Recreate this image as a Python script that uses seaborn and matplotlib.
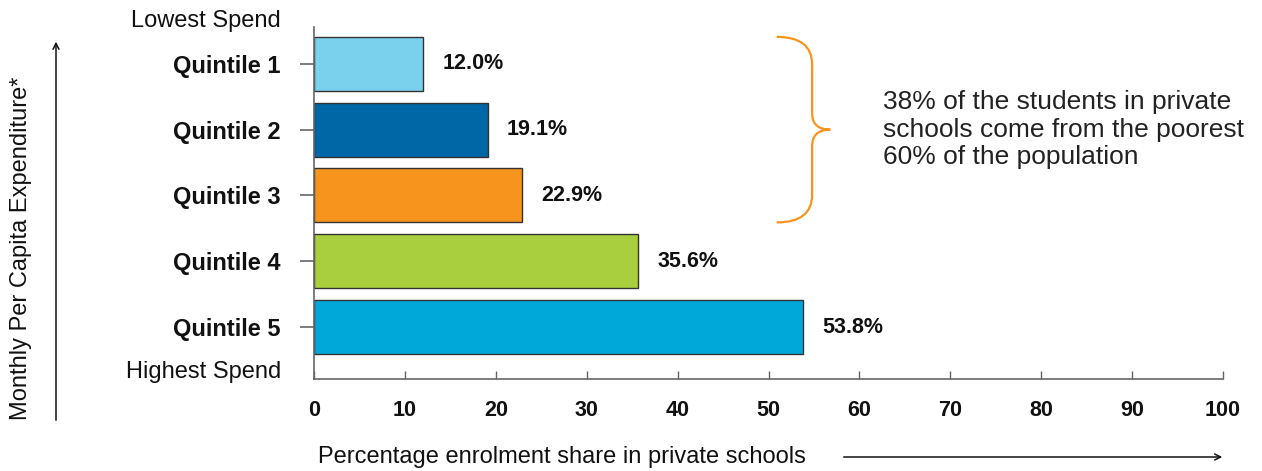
import matplotlib
matplotlib.use("Agg")
import matplotlib.pyplot as plt
from matplotlib.path import Path
from matplotlib.patches import PathPatch
import matplotlib.transforms as mtrans
import seaborn as sns
import pandas as pd

categories = ["Quintile 1", "Quintile 2", "Quintile 3", "Quintile 4", "Quintile 5"]
values = [12.0, 19.1, 22.9, 35.6, 53.8]
value_labels = ["12.0%", "19.1%", "22.9%", "35.6%", "53.8%"]
colors = ["#79D1EE", "#0067A6", "#F7941E", "#A9CE3E", "#00A8D9"]
x_ticks = [0, 10, 20, 30, 40, 50, 60, 70, 80, 90, 100]
note = "38% of the students in private\nschools come from the poorest\n60% of the population"

sns.set_theme(style="white")
plt.rcParams["font.family"] = ["Liberation Sans", "DejaVu Sans"]

W, H = 1262, 471
fig = plt.figure(figsize=(W / 100, H / 100), dpi=100)
ax = fig.add_axes([314 / W, 1 - 379 / H, 909 / W, 352 / H])

df = pd.DataFrame({"cat": categories, "val": values})
bar_w = 0.82
sns.barplot(data=df, x="val", y="cat", hue="cat", palette=colors, orient="h",
            width=bar_w, edgecolor="#333333", linewidth=1.0, legend=False, ax=ax,
            saturation=1)

ax.set_xlim(0, 100)
ax.set_ylim(4.79, -0.56)
ax.set_xticks(x_ticks)
ax.set_xticklabels([str(t) for t in x_ticks], fontsize=15.5, fontweight="bold")
ax.set_yticks(range(len(categories)))
ax.set_yticklabels(categories, fontsize=17, fontweight="bold")

for s in ["top", "right"]:
    ax.spines[s].set_visible(False)
for s in ["left", "bottom"]:
    ax.spines[s].set_color("#666666")
    ax.spines[s].set_linewidth(1.2)
ax.tick_params(axis="x", bottom=True, direction="in", length=6, width=1.0,
               color="#666666", pad=15, labelcolor="#111111")
ax.tick_params(axis="y", left=True, direction="out", length=10, width=1.2,
               color="#666666", pad=14, labelcolor="#111111")

# value labels
for i, (v, lab) in enumerate(zip(values, value_labels)):
    ax.annotate(lab, xy=(v, i), xytext=(14, 0), textcoords="offset points",
                ha="left", va="center", fontsize=15.5, fontweight="bold", color="#111111")

# Lowest / Highest spend labels
tr = mtrans.blended_transform_factory(ax.transAxes, ax.transData)
ax.text(-0.0363, -0.65, "Lowest Spend", transform=tr, ha="right", va="center",
        fontsize=17, color="#111111")
ax.text(-0.0363, 4.68, "Highest Spend", transform=tr, ha="right", va="center",
        fontsize=17, color="#111111")

# axis labels
ax.set_ylabel("Monthly Per Capita Expenditure*", fontsize=17, color="#111111", va="center")
ax.yaxis.set_label_coords(-0.322, 0.372)
ax.set_xlabel("Percentage enrolment share in private schools", fontsize=17,
              color="#111111", ha="left", va="center")
ax.xaxis.set_label_coords(0.004, -0.222)

# arrows
arrow_kw = dict(arrowstyle="->,head_length=0.35,head_width=0.18", color="#111111", lw=1.1)
ax.annotate("", xy=(56, H - 39), xytext=(56, H - 423), xycoords="figure pixels",
            textcoords="figure pixels", arrowprops=arrow_kw)
ax.annotate("", xy=(1225, H - 457), xytext=(841, H - 457), xycoords="figure pixels",
            textcoords="figure pixels", arrowprops=arrow_kw)

# curly brace spanning quintiles 1-3
y_top = 0 - bar_w / 2
y_bot = 2 + bar_w / 2
y_mid = (y_top + y_bot) / 2
x0, x1, xt = 50.9, 54.8, 56.8
r1, r2 = 0.42, 0.25
verts = [(x0, y_top), (x1, y_top), (x1, y_top + r1),
         (x1, y_mid - r2), (x1, y_mid), (xt, y_mid),
         (x1, y_mid), (x1, y_mid + r2),
         (x1, y_bot - r1), (x1, y_bot), (x0, y_bot)]
codes = [Path.MOVETO, Path.CURVE3, Path.CURVE3,
         Path.LINETO, Path.CURVE3, Path.CURVE3,
         Path.CURVE3, Path.CURVE3,
         Path.LINETO, Path.CURVE3, Path.CURVE3]
ax.add_patch(PathPatch(Path(verts, codes), facecolor="none", edgecolor="#F7941E",
                       lw=1.6, clip_on=False))

ax.text(62.6, y_mid, note, ha="left", va="center", fontsize=19, color="#222222",
        linespacing=1.2)

fig.savefig("out.png", dpi=100)
